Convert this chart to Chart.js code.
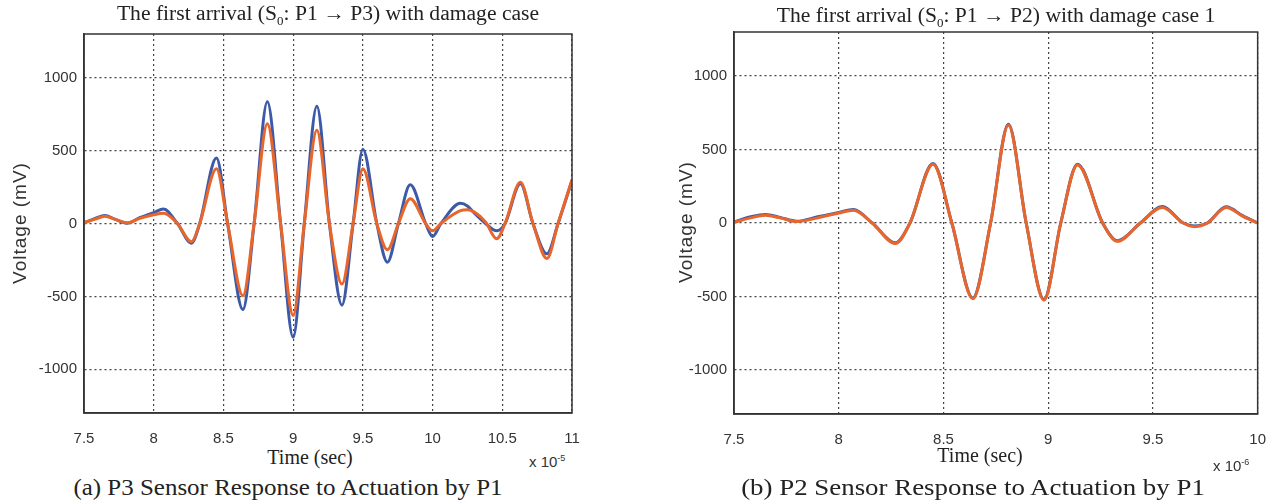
<!DOCTYPE html>
<html lang="en">

<head>
    <meta charset="UTF-8" />
    <title>First arrival S0 waves</title>
    <script src="https://cdn.jsdelivr.net/npm/chart.js"></script>
    <style>
        body { margin: 0; background: #fff; }
        #page { position: relative; width: 1271px; height: 502px; overflow: hidden; background: #fff; }
        .plot { position: absolute; }
        .txt { position: absolute; white-space: nowrap; color: #222; text-align: center; }
        .serif { font-family: "Liberation Serif", "Times New Roman", serif; }
        .sans { font-family: "Liberation Sans", Arial, sans-serif; color: #333; }
        sub, sup { font-size: 60%; }
    </style>
</head>

<body>
    <div id="page">
        <div class="plot" style="left:0;top:0;width:600px;height:445px"><canvas id="chartP3"></canvas></div>
        <div class="plot" style="left:640px;top:0;width:643px;height:445px"><canvas id="chartP2"></canvas></div>

        <div class="txt serif" style="left:28px;width:600px;top:1px;font-size:20px;line-height:24px;transform:scaleX(1.08)">The first arrival (S<sub>0</sub>: P1 <b>&#8594;</b> P3) with damage case</div>
        <div class="txt serif" style="left:696px;width:600px;top:3px;font-size:20px;line-height:24px;transform:scaleX(1.08)">The first arrival (S<sub>0</sub>: P1 <b>&#8594;</b> P2) with damage case 1</div>

        <div class="txt sans" style="left:-80px;width:200px;top:211px;font-size:19px;line-height:24px;letter-spacing:1px;transform:rotate(-90deg)">Voltage (mV)</div>
        <div class="txt sans" style="left:586px;width:200px;top:210px;font-size:19px;line-height:24px;letter-spacing:1px;transform:rotate(-90deg)">Voltage (mV)</div>

        <div class="txt serif" style="left:210px;width:200px;top:445px;font-size:20px;line-height:24px">Time (sec)</div>
        <div class="txt serif" style="left:880px;width:200px;top:443px;font-size:20px;line-height:24px">Time (sec)</div>

        <div class="txt sans" style="left:529px;top:448px;font-size:15px;line-height:20px;text-align:left">x 10<sup>-5</sup></div>
        <div class="txt sans" style="left:1213px;top:452px;font-size:15px;line-height:20px;text-align:left">x 10<sup>-6</sup></div>

        <div class="txt serif" style="left:-12px;width:600px;top:473px;font-size:24px;line-height:29px;transform:scaleX(1.04)">(a) P3 Sensor Response to Actuation by P1</div>
        <div class="txt serif" style="left:673px;width:600px;top:473px;font-size:24px;line-height:29px;transform:scaleX(1.12)">(b) P2 Sensor Response to Actuation by P1</div>
    </div>

    <script>
        // time in units of 1e-5 s, voltage in mV
        const p3Time = [7.5, 7.58, 7.65, 7.72, 7.81, 7.9, 8.0, 8.07, 8.17, 8.27, 8.33, 8.45, 8.53, 8.64, 8.72,
            8.815, 8.91, 9.0, 9.08, 9.17, 9.26, 9.35, 9.43, 9.5, 9.6, 9.676, 9.755, 9.84, 9.95, 10.0, 10.06,
            10.2, 10.25, 10.3, 10.38, 10.46, 10.52, 10.63, 10.72, 10.82, 10.9, 11.0];
        const p3Baseline = [5, 35, 55, 30, 2, 40, 75, 100, 0, -135, 0, 450, 0, -590, 0,
            835, 0, -780, 0, 805, 0, -560, 0, 510, 0, -265, 0, 265, 0, -89, 0,
            139, 120, 70, 0, -50, 0, 272, 0, -208, 0, 295];
        const p3Damage = [5, 30, 50, 30, 5, 35, 60, 70, 0, -125, 0, 375, 0, -495, 0,
            685, 0, -630, 0, 640, 0, -415, 0, 375, 0, -180, 0, 170, 0, -50, 0,
            88, 94, 78, 10, -105, 0, 283, 0, -240, 0, 300];

        const p2Time = [7.5, 7.58, 7.65, 7.72, 7.8, 7.9, 8.0, 8.07, 8.16, 8.27, 8.34, 8.45, 8.54, 8.64, 8.725,
            8.81, 8.895, 8.98, 9.06, 9.14, 9.26, 9.33, 9.44, 9.545, 9.645, 9.7, 9.76, 9.85, 9.93, 10.0];
        const p2Baseline = [8, 42, 58, 38, 12, 42, 72, 92, 0, -135, 0, 405, 0, -510, 0,
            672, 0, -520, 0, 400, 0, -120, 0, 112, 0, -20, 0, 110, 48, 0];
        const p2Damage = [5, 35, 52, 35, 10, 35, 68, 87, 0, -140, 0, 400, 0, -515, 0,
            665, 0, -525, 0, 395, 0, -125, 0, 105, 0, -25, 0, 105, 45, 0];

        const p3TimeTicks = [7.5, 8, 8.5, 9, 9.5, 10, 10.5, 11];
        const p2TimeTicks = [7.5, 8, 8.5, 9, 9.5, 10];
        const voltTicks = [-1000, -500, 0, 500, 1000];

        const blue = "#3c5aa8";
        const orange = "#e8662c";
        const tickFont = { family: '"Liberation Sans", Arial, sans-serif', size: 15 };

        const boxPlugin = {
            id: "box",
            afterDraw(chart) {
                const a = chart.chartArea;
                const ctx = chart.ctx;
                ctx.save();
                ctx.strokeStyle = "#333";
                ctx.lineWidth = 1.5;
                ctx.strokeRect(a.left, a.top, a.right - a.left, a.bottom - a.top);
                ctx.restore();
            },
        };

        function toPoints(xs, ys) {
            return xs.map((x, i) => ({ x: x, y: ys[i] }));
        }

        function makeChart(id, time, baseline, damage, xTicks, g) {
            const line = (data, color) => ({
                data: toPoints(time, data),
                borderColor: color,
                borderWidth: 3,
                pointRadius: 0,
                cubicInterpolationMode: "monotone",
                fill: false,
            });

            return new Chart(document.getElementById(id), {
                type: "line",
                // orange first so it is drawn on top
                data: { datasets: [line(damage, orange), line(baseline, blue)] },
                options: {
                    responsive: true,
                    maintainAspectRatio: false,
                    animation: false,
                    events: [],
                    layout: { padding: { left: 0, top: g.top, right: g.right, bottom: 0 } },
                    plugins: { legend: { display: false }, tooltip: { enabled: false } },
                    scales: {
                        x: {
                            type: "linear",
                            min: xTicks[0],
                            max: xTicks[xTicks.length - 1],
                            afterBuildTicks: (s) => { s.ticks = xTicks.map((v) => ({ value: v })); },
                            afterFit: (s) => { s.height = g.xh; },
                            ticks: { font: tickFont, color: "#333", padding: 17, maxRotation: 0, callback: (v) => String(v) },
                            grid: { color: "#444", lineWidth: 1.2, drawTicks: false },
                            border: { display: true, color: "#333", width: 1.5, dash: [2, 3] },
                        },
                        y: {
                            min: -1300,
                            max: 1300,
                            afterBuildTicks: (s) => { s.ticks = voltTicks.map((v) => ({ value: v })); },
                            afterFit: (s) => { s.width = g.yw; },
                            ticks: { font: tickFont, color: "#333", padding: 7, callback: (v) => String(v) },
                            grid: { color: "#444", lineWidth: 1.2, drawTicks: false },
                            border: { display: true, color: "#333", width: 1.5, dash: [2, 3] },
                        },
                    },
                },
                plugins: [boxPlugin],
            });
        }

        makeChart("chartP3", p3Time, p3Baseline, p3Damage, p3TimeTicks, { top: 34, right: 28, yw: 84, xh: 32 });
        makeChart("chartP2", p2Time, p2Baseline, p2Damage, p2TimeTicks, { top: 32, right: 5, yw: 94, xh: 31 });
    </script>
</body>

</html>
